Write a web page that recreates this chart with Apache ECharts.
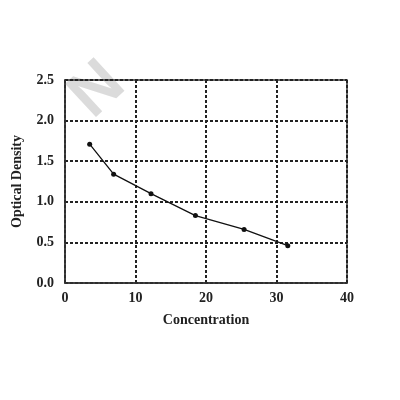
<!DOCTYPE html>
<html><head><meta charset="utf-8">
<script src="https://cdn.jsdelivr.net/npm/echarts@6/dist/echarts.min.js"></script>
<style>html,body{margin:0;padding:0;background:#fff}#c{width:400px;height:400px}</style>
</head><body><div id="c"></div>
<script>
const concentration = [3.5, 6.9, 12.2, 18.5, 25.4, 31.6];
const opticalDensity = [1.71, 1.34, 1.10, 0.83, 0.66, 0.46];
const xTicks = [0, 10, 20, 30, 40];
const yTicks = [0.0, 0.5, 1.0, 1.5, 2.0, 2.5];

const chart = echarts.init(document.getElementById('c'));
const font = 'Liberation Serif';
chart.setOption({
  backgroundColor: '#fff',
  animation: false,
  graphic: [{
    type: 'text', left: 58, top: 50, rotation: Math.PI/4.2,
    style: { text: 'N', font: 'bold 66px Liberation Sans', fill: 'rgba(195,195,195,0.6)' },
    z: -1
  }],
  grid: { left: 65, right: 53, top: 80, bottom: 117, show: true, borderColor: '#333', borderWidth: 1.5 },
  xAxis: {
    type: 'value', min: 0, max: 40, interval: 10,
    name: 'Concentration', nameLocation: 'middle', nameGap: 30,
    nameTextStyle: { fontFamily: font, fontSize: 14, fontWeight: 'bold', color: '#222' },
    axisLine: { show: true, lineStyle: { color: '#333', width: 1.5 } },
    axisTick: { show: false },
    axisLabel: { fontFamily: font, fontSize: 14, fontWeight: 'bold', color: '#222', margin: 8,
      formatter: v => xTicks.includes(v) ? String(v) : '' },
    splitLine: { show: true, lineStyle: { color: '#222', width: 2, type: [3, 2] } }
  },
  yAxis: {
    type: 'value', min: 0, max: 2.5, interval: 0.5,
    name: 'Optical Density', nameLocation: 'middle', nameGap: 41,
    nameTextStyle: { fontFamily: font, fontSize: 14, fontWeight: 'bold', color: '#222' },
    axisLine: { show: true, lineStyle: { color: '#333', width: 1.5 } },
    axisTick: { show: false },
    axisLabel: { fontFamily: font, fontSize: 14, fontWeight: 'bold', color: '#222', margin: 11,
      formatter: v => yTicks.find(t => Math.abs(t - v) < 1e-9).toFixed(1) },
    splitLine: { show: true, lineStyle: { color: '#222', width: 2, type: [3, 2] } }
  },
  series: [{
    type: 'line',
    data: concentration.map((x, i) => [x, opticalDensity[i]]),
    symbol: 'circle', symbolSize: 5,
    lineStyle: { color: '#111', width: 1.3 },
    itemStyle: { color: '#111' },
    z: 5
  }]
});
</script></body></html>
